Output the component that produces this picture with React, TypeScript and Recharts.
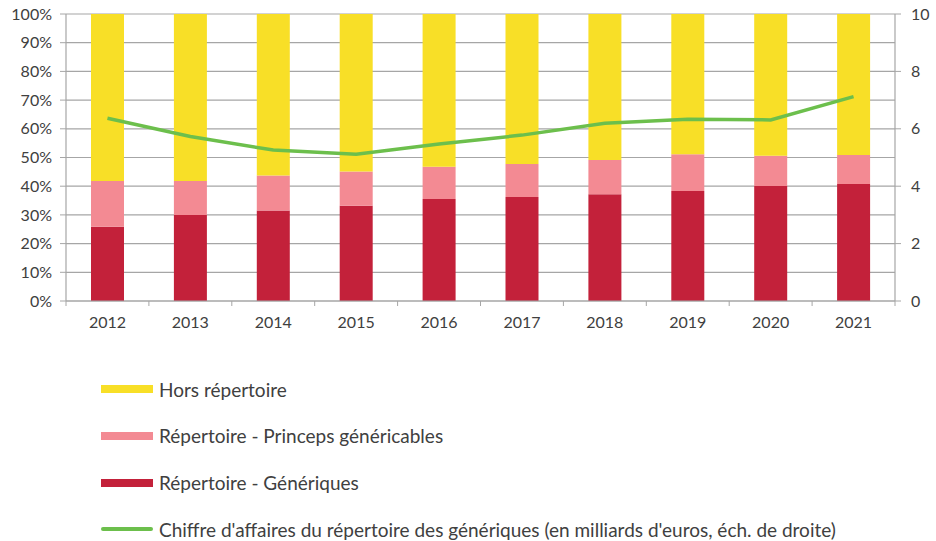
import React from 'react';
import { ComposedChart, Bar, Line, XAxis, YAxis, CartesianGrid } from 'recharts';

const years = ['2012', '2013', '2014', '2015', '2016', '2017', '2018', '2019', '2020', '2021'];
const generiques = [25.9, 30.0, 31.5, 33.2, 35.5, 36.2, 37.2, 38.3, 40.1, 40.8];
const princeps = [15.9, 11.8, 12.2, 11.9, 11.3, 11.5, 11.9, 12.8, 10.5, 10.1];
const chiffreAffaires = [6.37, 5.73, 5.26, 5.11, 5.47, 5.78, 6.19, 6.33, 6.31, 7.12];
const leftTicks = [0, 10, 20, 30, 40, 50, 60, 70, 80, 90, 100];
const rightTicks = [0, 2, 4, 6, 8, 10];

const data = years.map((year, i) => ({
    year,
    generiques: generiques[i],
    princeps: princeps[i],
    hors: +(100 - generiques[i] - princeps[i]).toFixed(1),
    ca: chiffreAffaires[i],
}));

const W = 936;
const LEFT_W = 66;
const RIGHT_W = 41;
const band = (W - LEFT_W - RIGHT_W) / years.length;

const FONT = 'Lato, "DejaVu Sans", sans-serif';
const TEXT = '#404040';
const GRID = '#A6A6A6';

const legendItems = [
    { label: 'Hors répertoire', color: '#F8DF27', line: false },
    { label: 'Répertoire - Princeps généricables', color: '#F38A93', line: false },
    { label: 'Répertoire - Génériques', color: '#C3213A', line: false },
    { label: "Chiffre d'affaires du répertoire des génériques (en milliards d'euros, éch. de droite)", color: '#6CBF4C', line: true },
];

const YearTick = (props: any) => {
    const { x, y, payload, index } = props;
    return (
        <g>
            <line x1={x - band / 2} x2={x - band / 2} y1={y} y2={y + 5} stroke={GRID} />
            {index === years.length - 1 && (
                <line x1={x + band / 2} x2={x + band / 2} y1={y} y2={y + 5} stroke={GRID} />
            )}
            <text x={x} y={y + 27} textAnchor="middle" fill={TEXT} fontSize={16} fontFamily={FONT}>
                {payload.value}
            </text>
        </g>
    );
};

export default function App() {
    return (
        <div style={{ position: 'relative', width: W, height: 541, background: '#fff', fontFamily: FONT }}>
            <style>{'body{margin:0}'}</style>
            <ComposedChart width={W} height={330} data={data} margin={{ top: 14, right: 0, left: 0, bottom: 0 }}>
                <CartesianGrid yAxisId="left" vertical={false} stroke={GRID} strokeWidth={1.2} />
                <XAxis
                    dataKey="year"
                    height={29}
                    tickLine={false}
                    tickSize={0}
                    tickMargin={0}
                    axisLine={{ stroke: GRID, strokeWidth: 1.2 }}
                    tick={<YearTick />}
                    interval={0}
                />
                <YAxis
                    yAxisId="left"
                    width={LEFT_W}
                    domain={[0, 100]}
                    ticks={leftTicks}
                    tickFormatter={(v: number) => `${v}%`}
                    axisLine={{ stroke: GRID, strokeWidth: 1.2 }}
                    tickLine={{ stroke: GRID }}
                    tickSize={6}
                    tickMargin={8}
                    tick={{ fill: TEXT, fontSize: 16, fontFamily: FONT }}
                    allowDataOverflow
                />
                <YAxis
                    yAxisId="right"
                    orientation="right"
                    width={RIGHT_W}
                    domain={[0, 10]}
                    ticks={rightTicks}
                    axisLine={{ stroke: GRID, strokeWidth: 1.2 }}
                    tickLine={{ stroke: GRID }}
                    tickSize={6}
                    tickMargin={10}
                    tick={{ fill: TEXT, fontSize: 16, fontFamily: FONT }}
                />
                <Bar yAxisId="left" dataKey="generiques" stackId="a" fill="#C3213A" barSize={33} isAnimationActive={false} />
                <Bar yAxisId="left" dataKey="princeps" stackId="a" fill="#F38A93" barSize={33} isAnimationActive={false} />
                <Bar yAxisId="left" dataKey="hors" stackId="a" fill="#F8DF27" barSize={33} isAnimationActive={false} />
                <Line
                    yAxisId="right"
                    dataKey="ca"
                    type="linear"
                    stroke="#6CBF4C"
                    strokeWidth={3.5}
                    dot={false}
                    isAnimationActive={false}
                />
            </ComposedChart>
            {legendItems.map((item, i) => (
                <div
                    key={item.label}
                    style={{
                        position: 'absolute',
                        left: 101,
                        top: 389 + i * 46.8 - 13,
                        height: 26,
                        display: 'flex',
                        alignItems: 'center',
                        whiteSpace: 'nowrap',
                    }}
                >
                    <span
                        style={{
                            display: 'inline-block',
                            width: 52,
                            height: item.line ? 4 : 8,
                            borderRadius: item.line ? 2 : 0,
                            background: item.color,
                            marginRight: 6,
                        }}
                    />
                    <span style={{ fontSize: 19, color: TEXT }}>{item.label}</span>
                </div>
            ))}
        </div>
    );
}
